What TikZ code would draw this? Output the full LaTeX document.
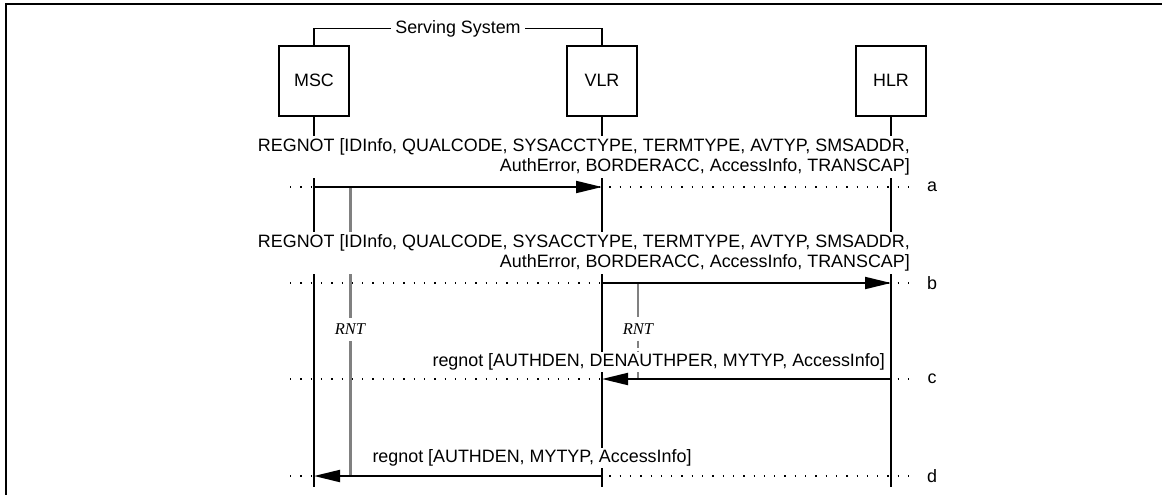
\documentclass[tikz,border=0pt]{standalone}
\usepackage{fontspec}
\setmainfont{Liberation Sans}
\newfontfamily\timerfont{Liberation Serif}
\usetikzlibrary{arrows.meta,positioning}
\definecolor{timergray}{RGB}{128,128,128}

\begin{document}
\begin{tikzpicture}[
  x=1pt,y=-1pt,
  >={Triangle[length=26pt,width=12pt]},
  entite/.style={rectangle,draw,line width=2pt,minimum size=70pt,inner sep=0pt,
                 font=\fontsize{17.9}{20}\selectfont},
  vie/.style={line width=2pt},
  msg/.style={->,line width=2pt},
  pointille/.style={line width=1.3pt,dash pattern=on 1.3pt off 9pt},
  lbl/.style={font=\fontsize{17.9}{20.5}\selectfont,fill=white,inner sep=2pt,align=right},
  tag/.style={font=\fontsize{17.9}{20}\selectfont,inner sep=0pt},
  minuterie/.style={timergray,line width=3pt},
  rnt/.style={font=\timerfont\itshape\fontsize{16.5}{18}\selectfont,fill=white,
              inner xsep=2pt,inner ysep=6pt}
]
%% Cadre
\useasboundingbox (0,0) rectangle (1162,495);
\clip (0,0) rectangle (1162,495);
\draw[line width=2.5pt] (6,4) rectangle (1200,530);
%% Entites
\node[entite] (MSC) at (314,80.7) {MSC};
\node[entite] (VLR) at (602,80.7) {VLR};
\node[entite] (HLR) at (891,80.7) {HLR};
\coordinate (gauche) at (290,0);
\coordinate (droite) at (912,0);
\coordinate (fin)    at (0,487);
%% Lignes pointillees
\foreach \r/\y in {a/187,b/283,c/379,d/476}{
  \coordinate (\r) at (0,\y);
  \draw[pointille] (gauche |- \r) -- (droite |- \r);
  \node[tag] (l\r) at (932,\y) {\r};
}
%% Lignes de vie
\draw[vie] (MSC.south) -- (MSC |- fin);
\draw[vie] (VLR.south) -- (VLR |- fin);
\draw[vie] (HLR.south) -- (HLR |- fin);
\draw[line width=1.5pt] (MSC.north) -- ++(0,-16) -|
  node[pos=0.25,fill=white,inner sep=4pt,font=\fontsize{17.9}{20}\selectfont]{Serving System}
  (VLR.north);
%% Minuteries
\path (MSC.east |- a) -- node[pos=0.493,rnt] (rnt1) {RNT} (MSC.east |- d);
\draw[minuterie] (MSC.east |- a) -- (rnt1) -- (MSC.east |- d);
\path (VLR.east |- b) -- node[pos=0.48,rnt] (rnt2) {RNT} (VLR.east |- c);
\draw[timergray,line width=2pt] (VLR.east |- b) -- (rnt2);
\draw[timergray,line width=2pt,dash pattern=on 7pt off 3pt] (rnt2) -- (VLR.east |- c);
%% Messages
\node[lbl,anchor=east] (ma) at (912,157)
  {REGNOT [IDInfo, QUALCODE, SYSACCTYPE, TERMTYPE, AVTYP, SMSADDR,\\AuthError, BORDERACC, AccessInfo, TRANSCAP]};
\node[lbl,anchor=east] (mb) at (912,253)
  {REGNOT [IDInfo, QUALCODE, SYSACCTYPE, TERMTYPE, AVTYP, SMSADDR,\\AuthError, BORDERACC, AccessInfo, TRANSCAP]};
\node[lbl,anchor=east] (mc) at (887,362) {regnot [AUTHDEN, DENAUTHPER, MYTYP, AccessInfo]};
\node[lbl] (md) at (532,458) {regnot [AUTHDEN, MYTYP, AccessInfo]};
\draw[msg] (MSC |- a) -- (VLR |- a);
\draw[msg] (VLR |- b) -- (HLR |- b);
\draw[msg] (HLR |- c) -- (VLR |- c);
\draw[msg] (VLR |- d) -- (MSC |- d);
\end{tikzpicture}
\end{document}
